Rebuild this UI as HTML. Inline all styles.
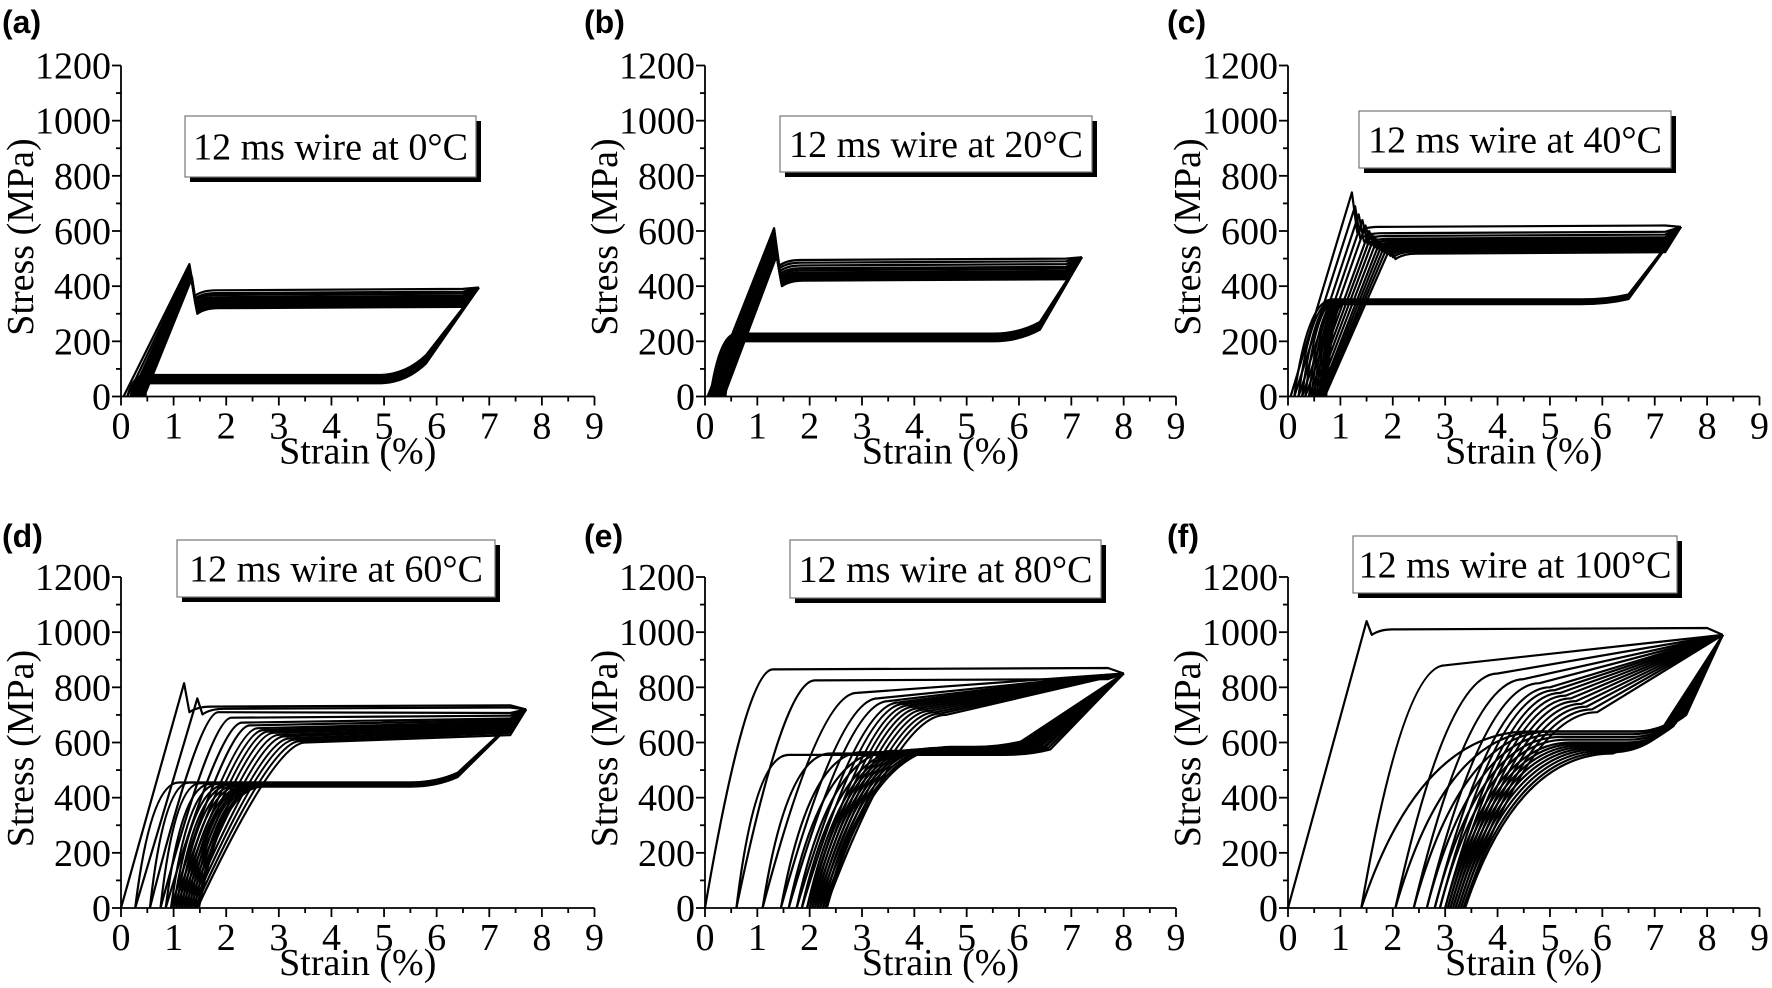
<!DOCTYPE html>
<html><head><meta charset="utf-8"><style>
html,body{margin:0;padding:0;background:#fff;}
svg{display:block;}
.tk{font-family:"Liberation Serif","Times New Roman",serif;font-size:38px;fill:#000;}
.pl{font-family:"Liberation Sans",Arial,sans-serif;font-weight:bold;font-size:32px;fill:#000;}
</style></head><body>
<svg id="fig" width="1772" height="988" viewBox="0 0 1772 988" xmlns="http://www.w3.org/2000/svg"></svg>
<script>
// ---- data (strain %, stress MPa) per panel ----
const xTicks = [0,1,2,3,4,5,6,7,8,9];
const yTicks = [0,200,400,600,800,1000,1200];
const titles = ["12 ms wire at 0°C","12 ms wire at 20°C","12 ms wire at 40°C","12 ms wire at 60°C","12 ms wire at 80°C","12 ms wire at 100°C"];
const letters = ["(a)","(b)","(c)","(d)","(e)","(f)"];

const aStart=[0.05,0.12,0.18,0.22,0.26,0.3,0.32,0.35,0.37,0.4,0.42,0.44];
const aKnee=[1.3,1.3,1.31,1.31,1.32,1.32,1.33,1.33,1.34,1.34,1.35,1.35];
const aPeak=[480,470,465,460,455,450,445,440,438,435,432,430];
const aUpper=[385,375,368,360,355,350,345,340,335,330,325,320];
const aLower=[78,74,70,66,63,60,58,56,54,52,50,48];
const aLowerEnd=[0.45,0.45,0.45,0.45,0.45,0.45,0.45,0.45,0.45,0.45,0.45,0.45];
const aMax=[6.8,395]; const aUKnee=[5.8,150];

const bStart=[0.05,0.1,0.14,0.18,0.21,0.24,0.27,0.29,0.31,0.33,0.35,0.36];
const bKnee=[1.32,1.32,1.33,1.33,1.34,1.34,1.35,1.35,1.36,1.36,1.37,1.37];
const bPeak=[610,595,580,570,560,550,540,530,525,520,515,510];
const bUpper=[495,485,475,465,458,450,445,440,435,430,425,420];
const bLower=[228,224,220,217,214,212,210,208,206,204,202,200];
const bLowerEnd=[0.6,0.62,0.63,0.64,0.65,0.66,0.67,0.68,0.68,0.69,0.7,0.7];
const bMax=[7.2,505]; const bUKnee=[6.4,270];

const cStart=[0.05,0.12,0.2,0.27,0.33,0.4,0.45,0.5,0.55,0.6,0.63,0.66,0.68,0.7];
const cKnee=[1.22,1.28,1.35,1.42,1.48,1.55,1.6,1.65,1.7,1.75,1.8,1.85,1.9,1.95];
const cPeak=[740,690,660,640,620,600,590,580,570,560,555,550,545,540];
const cUpper=[615,592,582,572,566,560,555,550,545,540,535,530,525,518];
const cLower=[352,350,348,346,345,344,343,342,341,340,339,338,336,335];
const cLowerEnd=[0.85,0.88,0.9,0.92,0.95,0.97,1.0,1.0,1.02,1.03,1.05,1.05,1.05,1.05];
const cMax=[7.5,615]; const cUKnee=[6.5,370];

const dStart=[0,0.27,0.55,0.75,0.85,0.95,1.0,1.05,1.1,1.15,1.2,1.25,1.3,1.35,1.4,1.45];
const dKnee=[1.2,1.45,1.85,2.1,2.3,2.45,2.6,2.7,2.8,2.9,3.0,3.1,3.2,3.3,3.4,3.5];
const dPeak=[815,760,710,690,672,662,652,645,640,635,628,622,615,610,605,600];
const dUpper=[730,722,702,692,682,676,670,665,660,655,650,645,640,635,630,622];
const dLower=[455,455,452,450,450,448,448,446,446,445,445,444,444,443,442,440];
const dLowerEnd=[1.1,1.3,1.5,1.7,1.85,2.0,2.1,2.2,2.3,2.4,2.45,2.5,2.55,2.6,2.65,2.7];
const dMax=[7.7,720]; const dUKnee=[6.4,490];

const eStart=[0,0.6,1.1,1.45,1.6,1.75,1.85,1.95,2.0,2.05,2.1,2.15,2.2,2.25,2.3];
const eKnee=[1.3,2.1,2.9,3.3,3.5,3.7,3.8,3.9,4.0,4.1,4.2,4.3,4.4,4.5,4.6];
const ePeak=[865,825,780,760,750,745,740,735,730,725,720,715,710,705,700];
const eUpper=[865,825,780,760,750,745,740,735,730,725,720,715,710,705,700];
const eLower=[555,560,565,565,570,570,572,574,575,576,578,580,580,582,584];
const eLowerEnd=[1.6,2.4,3.0,3.4,3.6,3.8,3.9,4.0,4.1,4.2,4.3,4.4,4.5,4.6,4.7];
const eMax=[8.0,850]; const eUKnee=[6.6,575];

const fStart=[0,1.4,2.05,2.4,2.65,2.8,2.9,3.0,3.05,3.1,3.15,3.2,3.25,3.3,3.35];
const fKnee=[1.5,3.0,4.0,4.5,4.8,5.0,5.1,5.2,5.3,5.4,5.5,5.6,5.7,5.8,5.9];
const fPeak=[1040,880,850,830,815,800,790,780,770,760,750,740,730,720,710];
const fUpper=[1010,900,865,845,825,810,800,790,780,770,760,750,740,730,720];
const fLower=[640,640,640,630,620,610,600,595,590,585,580,575,570,565,560];
const fLowerEnd=[4.6,4.8,5.0,5.1,5.2,5.3,5.4,5.5,5.6,5.7,5.8,5.9,6.0,6.1,6.2];
const fMax=[8.3,990]; const fUKnee=[7.6,700];

const panels = [
 {start:aStart,knee:aKnee,peak:aPeak,upper:aUpper,lower:aLower,lowerEnd:aLowerEnd,max:aMax,uk:aUKnee,R:0.6,slope:false,x0:121,x9:594.5,y0:396.5,y12:65.5,lx:2,ly:33,box:[185,116,291,61]},
 {start:bStart,knee:bKnee,peak:bPeak,upper:bUpper,lower:bLower,lowerEnd:bLowerEnd,max:bMax,uk:bUKnee,R:0.6,slope:false,x0:705,x9:1176,y0:396.5,y12:65.5,lx:584,ly:33,box:[780,116,312,56]},
 {start:cStart,knee:cKnee,peak:cPeak,upper:cUpper,lower:cLower,lowerEnd:cLowerEnd,max:cMax,uk:cUKnee,R:0.6,slope:false,x0:1288,x9:1759.5,y0:396.5,y12:65.5,lx:1167,ly:33,box:[1359,111,312,57]},
 {start:dStart,knee:dKnee,peak:dPeak,upper:dUpper,lower:dLower,lowerEnd:dLowerEnd,max:dMax,uk:dUKnee,R:0.72,slope:false,x0:121,x9:594.5,y0:908,y12:577,lx:2,ly:547,box:[177,540,318,57]},
 {start:eStart,knee:eKnee,peak:ePeak,upper:eUpper,lower:eLower,lowerEnd:eLowerEnd,max:eMax,uk:eUKnee,R:0.6,slope:true,x0:705,x9:1176,y0:908,y12:577,lx:584,ly:547,box:[790,540,311,58]},
 {start:fStart,knee:fKnee,peak:fPeak,upper:fUpper,lower:fLower,lowerEnd:fLowerEnd,max:fMax,uk:fUKnee,R:0.5,slope:true,x0:1288,x9:1759.5,y0:908,y12:577,lx:1167,ly:547,box:[1353,536,324,57]}
];

const NS="http://www.w3.org/2000/svg";
const svg=document.getElementById('fig');
function mk(tag,attrs,parent){const e=document.createElementNS(NS,tag);for(const k in attrs)e.setAttribute(k,attrs[k]);(parent||svg).appendChild(e);return e;}
const SERIF='"Liberation Serif", "Times New Roman", serif';

panels.forEach((P,pi)=>{
  const g=mk('g',{});
  
  
  const xs=v=>P.x0+v*(P.x9-P.x0)/9;
  const ys=s=>P.y0-s*(P.y0-P.y12)/1200;
  const pt=(e,s)=>xs(e).toFixed(1)+","+ys(s).toFixed(1);
  const cg=mk('g',{fill:'none',stroke:'#000','stroke-width':2.2,'stroke-linejoin':'round'},g);
  
  
  const n=P.start.length;
  const mx=P.max[0], ms=P.max[1];
  for(let i=0;i<n;i++){
    const s0=P.start[i],k=P.knee[i],pk=P.peak[i],up=P.upper[i],lo=P.lower[i],le=P.lowerEnd[i];
    let d;
    if(pk>up+15){
      d="M"+pt(s0,0)+" L"+pt(k,pk)+" L"+pt(k+0.1,up-20)+" Q"+pt(k+0.25,up)+" "+pt(k+0.5,up);
    } else {
      d="M"+pt(s0,0)+" Q"+pt(s0+(k-s0)*P.R,pk)+" "+pt(k,pk);
    }
    if(P.slope && up<ms-60){ d+=" L"+pt(mx,ms); }
    else { d+=" L"+pt(mx-0.3,up+5)+" L"+pt(mx,ms); }
    const lp=mk('path',{d:d},cg);
    
    
    const ns=i+1<n?P.start[i+1]:P.start[i]+0.03;
    const ukx=P.uk[0]-(P.slope?i*0.04:0);
    const uks=P.uk[1]+(lo-P.lower[0]);
    let u="M"+pt(mx,ms)+" L"+pt(ukx,uks);
    if(ukx-0.9>le){ u+=" Q"+pt(ukx-0.4,lo)+" "+pt(ukx-0.9,lo)+" L"+pt(le,lo); }
    else { u+=" L"+pt(le,lo); }
    u+=" Q"+pt(ns+(le-ns)*0.35,lo)+" "+pt(ns,0);
    const up2=mk('path',{d:u},cg);
    
    
  }
  // axes
  const ax=mk('g',{stroke:'#000','stroke-width':1.8},g);
  
  
  mk('line',{x1:P.x0,y1:P.y0,x2:P.x9,y2:P.y0},ax);
  mk('line',{x1:P.x0,y1:P.y0,x2:P.x0,y2:P.y12},ax);
  for(let v=0;v<=9;v+=0.5){const x=xs(v);mk('line',{x1:x,y1:P.y0,x2:x,y2:P.y0+(v%1===0?9:5)},ax);}
  for(let s=0;s<=1200;s+=100){const y=ys(s);mk('line',{x1:P.x0,y1:y,x2:P.x0-(s%200===0?9:5),y2:y},ax);}
  xTicks.forEach(v=>{const t=mk('text',{class:'tk','font-family':SERIF,x:xs(v),y:P.y0+42,'text-anchor':'middle'},g);t.textContent=v;
    });
  yTicks.forEach(s=>{const t=mk('text',{class:'tk','font-family':SERIF,x:P.x0-10,y:ys(s)+13,'text-anchor':'end'},g);t.textContent=s;
    });
  const xt=mk('text',{class:'tk','font-family':SERIF,x:(P.x0+P.x9)/2,y:P.y0+67,'text-anchor':'middle'},g);xt.textContent='Strain (%)';
  
  const yc=(P.y0+P.y12)/2+6, yx=P.x0-88;
  const yt=mk('text',{class:'tk','font-family':SERIF,x:yx,y:yc,'text-anchor':'middle',transform:`rotate(-90 ${yx} ${yc})`},g);yt.textContent='Stress (MPa)';
  
  const lt=mk('text',{class:'pl',x:P.lx,y:P.ly},g);lt.textContent=letters[pi];
  
  const b=P.box;
  const bg=mk('g',{},g);
  
  
  mk('rect',{x:b[0]+5,y:b[1]+5,width:b[2],height:b[3],fill:'#000'},bg);
  mk('rect',{x:b[0],y:b[1],width:b[2],height:b[3],fill:'#fff',stroke:'#777','stroke-width':1.2},bg);
  const tt=mk('text',{class:'tk','font-family':SERIF,x:b[0]+b[2]/2,y:b[1]+b[3]/2+13,'text-anchor':'middle'},bg);tt.textContent=titles[pi];
  
});
</script>
</body></html>
